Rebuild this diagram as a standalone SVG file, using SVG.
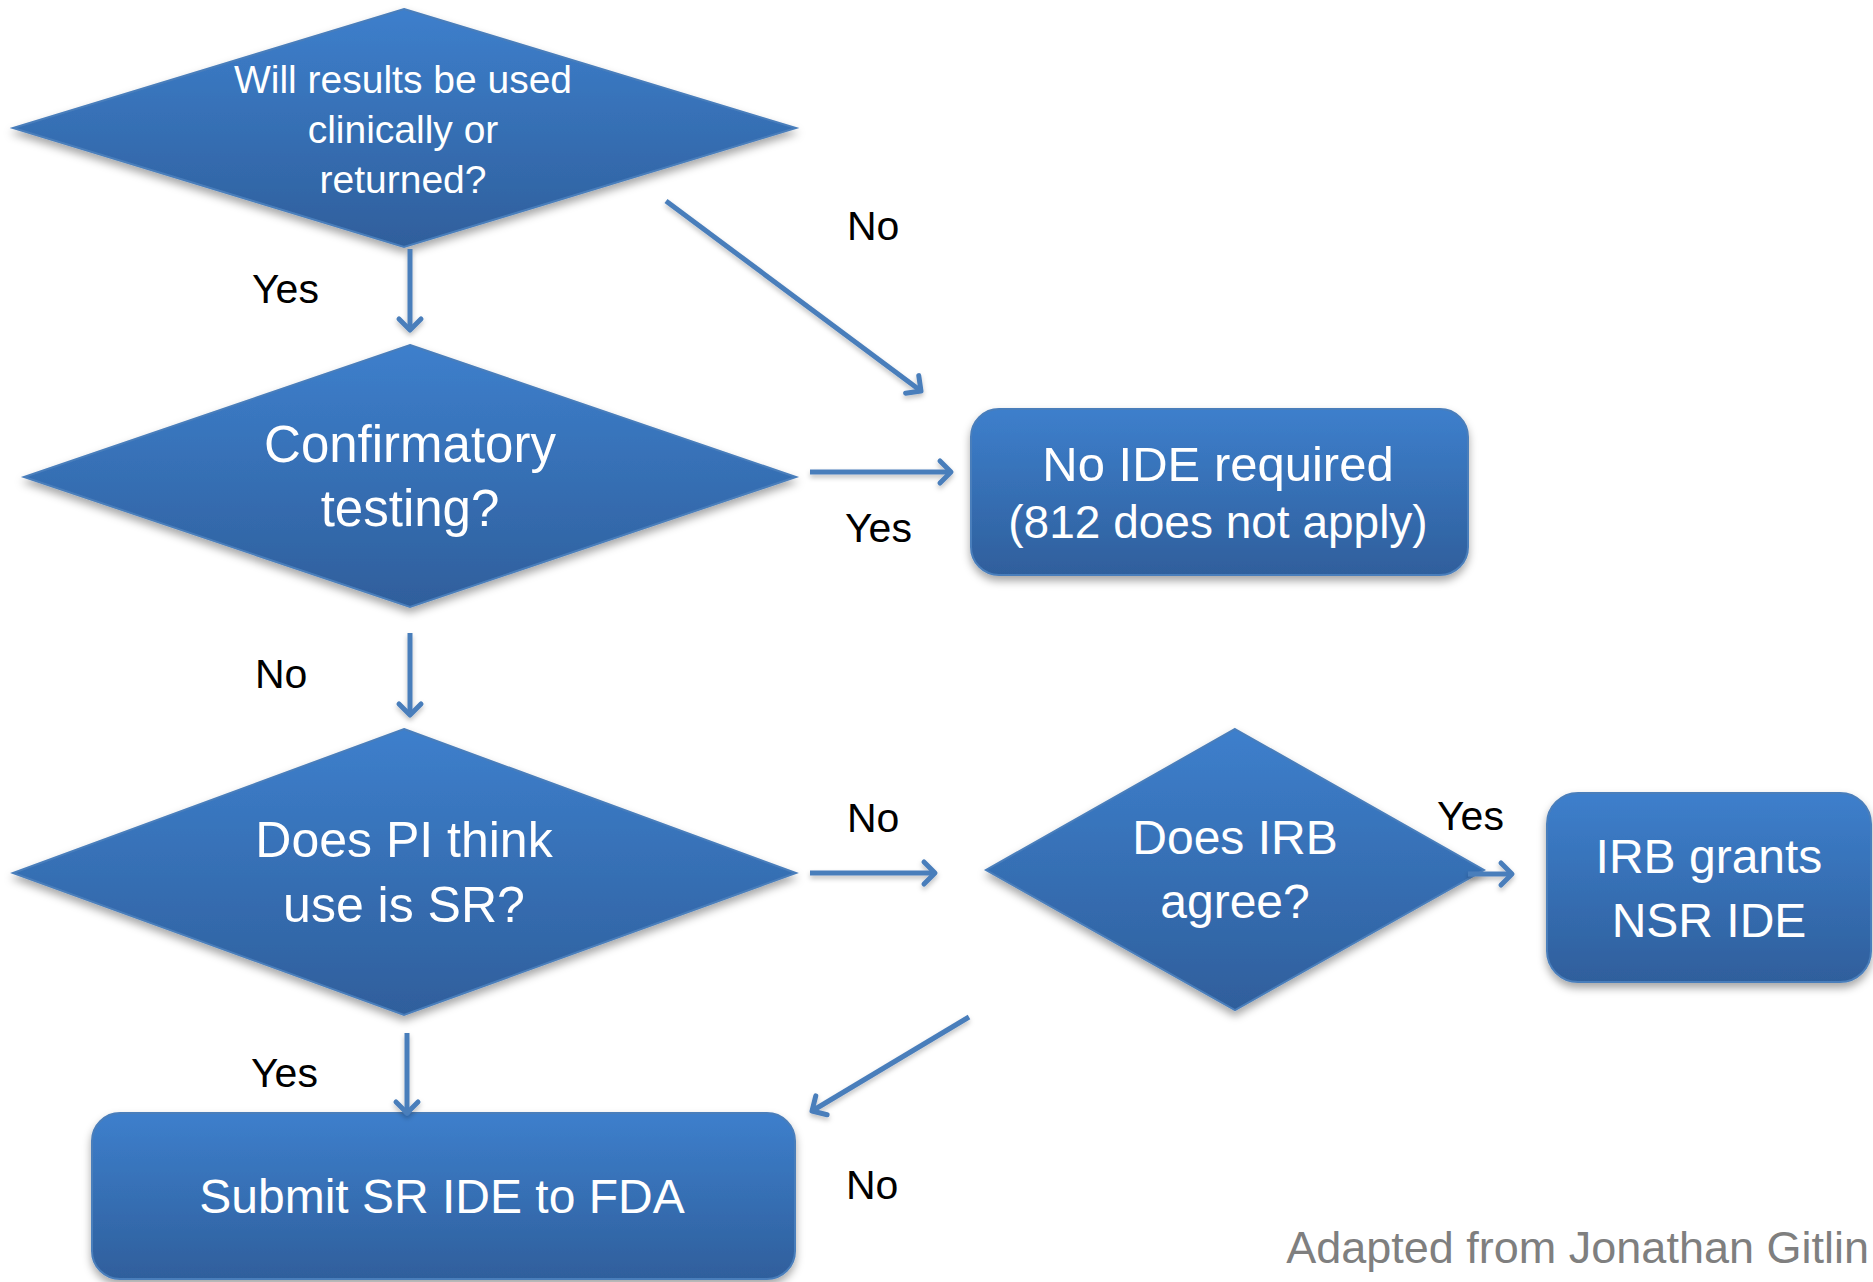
<svg xmlns="http://www.w3.org/2000/svg" width="1873" height="1282" viewBox="0 0 1873 1282">
<style>
.node{fill:url(#g);stroke:#4a7ebb;stroke-width:2;filter:url(#sh)}
.nt{font-family:"Liberation Sans",Arial,sans-serif;fill:#fff;text-anchor:middle}
.lbl{font-family:"Liberation Sans",Arial,sans-serif;fill:#000;font-size:41px}
.con{stroke:#4a7ebb;stroke-width:5;fill:none;marker-end:url(#ah)}
</style>
<defs>
<linearGradient id="g" x1="0" y1="0" x2="0" y2="1">
<stop offset="0" stop-color="#3d7fcc"/>
<stop offset="1" stop-color="#2f5f9c"/>
</linearGradient>
<filter id="sh" x="-10%" y="-10%" width="120%" height="130%">
<feDropShadow dx="0" dy="5" stdDeviation="4" flood-color="#000" flood-opacity="0.35"/>
</filter>
<filter id="sh2" filterUnits="userSpaceOnUse" x="0" y="0" width="1873" height="1282">
<feDropShadow dx="0" dy="3" stdDeviation="2.5" flood-color="#000" flood-opacity="0.25"/>
</filter>
<marker id="ah" markerUnits="userSpaceOnUse" markerWidth="30" markerHeight="30" viewBox="-15 -15 30 30" refX="0" refY="0" orient="auto">
<path d="M-11,-11 L0,0 L-11,11" fill="none" stroke="#4a7ebb" stroke-width="5" stroke-linecap="round" stroke-linejoin="round"/>
</marker>
</defs>
<rect width="1873" height="1282" fill="#fff"/>

<g id="q1">
<polygon class="node" points="404,9 796,128 404,247 13,128"/>
<text class="nt" font-size="39" x="403" y="93">Will results be used</text>
<text class="nt" font-size="39" x="403" y="143">clinically or</text>
<text class="nt" font-size="39" x="403" y="193">returned?</text>
</g>

<g id="q2">
<polygon class="node" points="410,345 796,477 410,607 24,477"/>
<text class="nt" font-size="51" x="410" y="462">Confirmatory</text>
<text class="nt" font-size="51" x="410" y="526">testing?</text>
</g>

<g id="q3">
<polygon class="node" points="404,729 796,873 404,1015 13,873"/>
<text class="nt" font-size="50" x="404" y="857">Does PI think</text>
<text class="nt" font-size="50" x="404" y="922">use is SR?</text>
</g>

<g id="q4">
<polygon class="node" points="1235,729 1484,870 1235,1010 986,870"/>
<text class="nt" font-size="48" x="1235" y="854">Does IRB</text>
<text class="nt" font-size="48" x="1235" y="918">agree?</text>
</g>

<g id="noide">
<rect class="node" x="971" y="409" width="497" height="166" rx="28"/>
<text class="nt" font-size="49" x="1218" y="481">No IDE required</text>
<text class="nt" font-size="46" x="1218" y="538">(812 does not apply)</text>
</g>

<g id="nsr">
<rect class="node" x="1547" y="793" width="324" height="189" rx="31"/>
<text class="nt" font-size="48" x="1709" y="873">IRB grants</text>
<text class="nt" font-size="48" x="1709" y="937">NSR IDE</text>
</g>

<g id="submit">
<rect class="node" x="92" y="1113" width="703" height="166" rx="28"/>
<text class="nt" font-size="48" x="442" y="1213">Submit SR IDE to FDA</text>
</g>

<g id="connectors" filter="url(#sh2)">
<line class="con" x1="410" y1="249" x2="410" y2="330"/>
<line class="con" x1="666" y1="201" x2="921" y2="391"/>
<line class="con" x1="810" y1="472" x2="951" y2="472"/>
<line class="con" x1="410" y1="633" x2="410" y2="715"/>
<line class="con" x1="810" y1="873" x2="935" y2="873"/>
<line class="con" x1="1468" y1="874" x2="1512" y2="874"/>
<line class="con" x1="407" y1="1033" x2="407" y2="1113"/>
<line class="con" x1="969" y1="1017" x2="812" y2="1111"/>
</g>

<g id="labels">
<text class="lbl" x="252" y="303">Yes</text>
<text class="lbl" x="847" y="240">No</text>
<text class="lbl" x="845" y="542">Yes</text>
<text class="lbl" x="255" y="688">No</text>
<text class="lbl" x="847" y="832">No</text>
<text class="lbl" x="1437" y="830">Yes</text>
<text class="lbl" x="251" y="1087">Yes</text>
<text class="lbl" x="846" y="1199">No</text>
</g>

<text x="1869" y="1263" font-family="Liberation Sans,Arial,sans-serif" font-size="45" fill="#7f7f7f" text-anchor="end">Adapted from Jonathan Gitlin</text>
</svg>
